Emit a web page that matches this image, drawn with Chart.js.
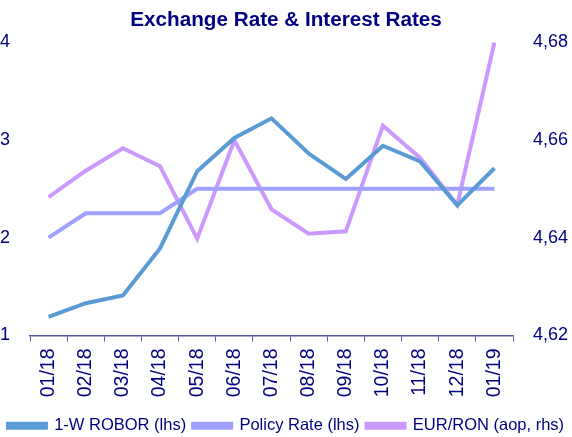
<!DOCTYPE html>
<html>
<head>
<meta charset="utf-8">
<script src="https://cdn.jsdelivr.net/npm/chart.js@4"></script>
<style>
  html, body { margin: 0; padding: 0; background: #fff; }
  #wrap { width: 572px; height: 437px; }
</style>
</head>
<body>
<div id="wrap"><canvas id="rateChart" width="572" height="437"></canvas></div>
<script>
// months on the x axis
const months = ['01/18', '02/18', '03/18', '04/18', '05/18', '06/18', '07/18',
  '08/18', '09/18', '10/18', '11/18', '12/18', '01/19'];

// values
const robor = [1.19, 1.33, 1.41, 1.89, 2.68, 3.02, 3.22, 2.86, 2.60, 2.94, 2.78, 2.33, 2.71];
const policyRate = [2.00, 2.25, 2.25, 2.25, 2.50, 2.50, 2.50, 2.50, 2.50, 2.50, 2.50, 2.50, 2.50];
const eurRon = [4.6483, 4.6537, 4.6583, 4.6546, 4.6398, 4.6599, 4.6458, 4.6408, 4.6413, 4.6629, 4.6563, 4.6467, 4.6799];

const navy = '#000080';
const font = 'Arial, "Liberation Sans", sans-serif';

const ctx = document.getElementById('rateChart').getContext('2d');

new Chart(ctx, {
  type: 'line',
  data: {
    labels: months,
    datasets: [
      {
        label: '1-W ROBOR (lhs)',
        data: robor,
        borderColor: '#5b9bd5',
        backgroundColor: '#5b9bd5',
        yAxisID: 'y'
      },
      {
        label: 'Policy Rate (lhs)',
        data: policyRate,
        borderColor: '#a0a0ff',
        backgroundColor: '#a0a0ff',
        yAxisID: 'y'
      },
      {
        label: 'EUR/RON (aop, rhs)',
        data: eurRon,
        borderColor: '#cc99ff',
        backgroundColor: '#cc99ff',
        yAxisID: 'y2'
      }
    ]
  },
  options: {
    responsive: false,
    animation: false,
    // negative bottom padding pushes the legend a bit lower
    layout: { padding: { top: 0, left: 0, right: 0, bottom: -7 } },
    elements: {
      line: { borderWidth: 4, tension: 0, fill: false },
      point: { radius: 0 }
    },
    plugins: {
      title: {
        display: true,
        text: 'Exchange Rate & Interest Rates',
        color: navy,
        font: { family: font, size: 20.7, weight: 'bold' },
        padding: { top: 7.6, bottom: 9.6 }
      },
      legend: {
        position: 'bottom',
        labels: {
          color: navy,
          font: { family: font, size: 16.5 },
          boxWidth: 38,
          boxHeight: 4,
          padding: 7
        }
      },
      tooltip: { enabled: false }
    },
    scales: {
      x: {
        offset: true,
        grid: {
          display: true,
          drawOnChartArea: false,
          drawTicks: true,
          tickLength: 6,
          color: '#5555aa',
          offset: true
        },
        border: { display: true, color: '#5555aa', width: 1.5 },
        ticks: {
          color: navy,
          font: { family: font, size: 19.5 },
          minRotation: 90,
          maxRotation: 90,
          padding: 7
        },
        afterFit: (scale) => { scale.height = 75; }
      },
      y: {
        position: 'left',
        min: 1,
        max: 4,
        grid: { display: false, drawTicks: false },
        border: { display: false },
        ticks: {
          stepSize: 1,
          color: navy,
          font: { family: font, size: 18 },
          crossAlign: 'far',
          padding: 0
        },
        afterFit: (scale) => { scale.width = 30; }
      },
      y2: {
        position: 'right',
        min: 4.62,
        max: 4.68,
        grid: { display: false, drawTicks: false },
        border: { display: false },
        ticks: {
          stepSize: 0.02,
          color: navy,
          font: { family: font, size: 18 },
          padding: 20,
          callback: (v) => v.toFixed(2).replace('.', ',')
        },
        afterFit: (scale) => { scale.width = 59; }
      }
    }
  }
});
</script>
</body>
</html>
